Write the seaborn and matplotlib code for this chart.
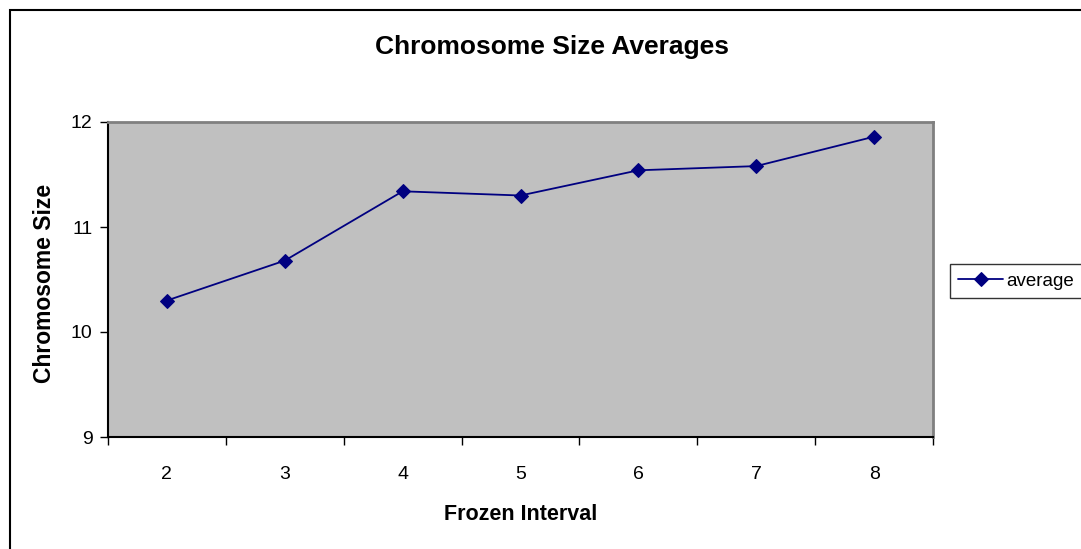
import matplotlib
matplotlib.use("Agg")
import matplotlib.pyplot as plt
import seaborn as sns
import pandas as pd
from matplotlib.patches import Rectangle
from matplotlib.ticker import FixedLocator, NullFormatter, FixedFormatter

intervals = [2, 3, 4, 5, 6, 7, 8]
averages = [10.30, 10.68, 11.34, 11.30, 11.54, 11.58, 11.86]
y_ticks = [9, 10, 11, 12]

sns.set_style("white")
plt.rcParams['font.family'] = ['Liberation Sans', 'DejaVu Sans']
plt.rcParams['text.color'] = 'black'
plt.rcParams['xtick.color'] = 'black'
plt.rcParams['ytick.color'] = 'black'
plt.rcParams['axes.labelcolor'] = 'black'

df = pd.DataFrame({"Frozen Interval": intervals, "average": averages})

fig = plt.figure(figsize=(10.81, 5.49), dpi=100)
ax = fig.add_axes([108/1081, 1-437/549, (933-108)/1081, (437-122)/549])
ax.set_facecolor("#C0C0C0")

sns.lineplot(data=df, x="Frozen Interval", y="average", ax=ax, color="#000080",
             marker="D", markersize=7, linewidth=1.3, markeredgecolor="#000080",
             label="average", legend=False)

ax.set_xlim(1.5, 8.5)
ax.set_ylim(9, 12)
ax.xaxis.set_major_locator(FixedLocator([i - 0.5 for i in intervals] + [intervals[-1] + 0.5]))
ax.xaxis.set_major_formatter(NullFormatter())
ax.xaxis.set_minor_locator(FixedLocator(intervals))
ax.xaxis.set_minor_formatter(FixedFormatter([str(i) for i in intervals]))
ax.tick_params(axis="x", which="major", direction="out", length=6, width=1, color="black", bottom=True)
ax.tick_params(axis="x", which="minor", length=0, labelsize=14, pad=21, bottom=True)
ax.set_yticks(y_ticks)
ax.set_yticklabels([str(v) for v in y_ticks])
ax.tick_params(axis="y", direction="out", length=6, width=1, color="black", labelsize=14, left=True, pad=5)

for side in ["top", "right"]:
    ax.spines[side].set_color("#808080")
    ax.spines[side].set_linewidth(2)
for side in ["left", "bottom"]:
    ax.spines[side].set_color("black")
    ax.spines[side].set_linewidth(1.5)

ax.set_xlabel("Frozen Interval", fontsize=15.5, fontweight="bold", labelpad=15)
ax.set_ylabel("Chromosome Size", fontsize=16.5, fontweight="bold")
ax.yaxis.label.set_verticalalignment("center")
ax.yaxis.set_label_coords(45/1081, 1-283/549, transform=fig.transFigure)

fig.text(552/1081, 1-47/549, "Chromosome Size Averages", ha="center", va="center",
         fontsize=19, fontweight="bold")

handles, labels = ax.get_legend_handles_labels()
leg = fig.legend(handles, labels, loc="center left", bbox_to_anchor=(950/1081, 1-281/549),
                 fontsize=13.5, frameon=True, fancybox=False, edgecolor="black",
                 handlelength=2.4, borderpad=0.45, borderaxespad=0, handletextpad=0.15)
leg.get_frame().set_linewidth(1.0)

fig.patches.append(Rectangle((10/1081, -0.1), 1.2, 1 - 10/549 + 0.1, transform=fig.transFigure,
                             fill=False, edgecolor="black", linewidth=1.5))

fig.savefig("out.png", dpi=100)
